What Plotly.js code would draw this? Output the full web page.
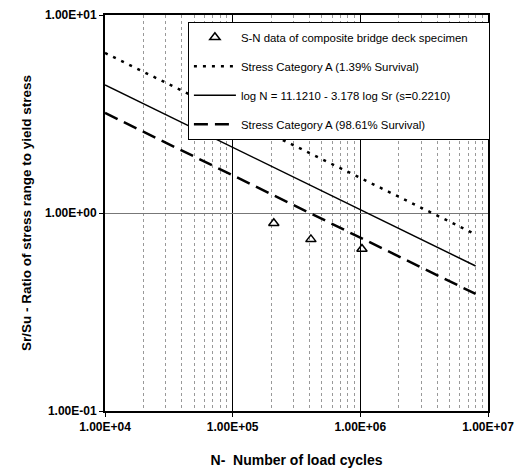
<!DOCTYPE html>
<html><head><meta charset="utf-8">
<script src="https://cdn.plot.ly/plotly-3.0.1.min.js"></script>
<style>html,body{margin:0;padding:0;background:#fff;}#chart{width:515px;height:475px;}</style>
</head><body><div id="chart"></div>
<script>
// Test data
const testCycles = [2.1e5, 4.1e5, 1.03e6];
const testRatio = [0.887, 0.736, 0.658];

// S-N curves (end points)
const curveCycles = [1e4, 8e6];
const upperRatio = [6.43, 0.78];   // 1.39% survival
const meanRatio = [4.43, 0.54];    // mean regression
const lowerRatio = [3.20, 0.39];   // 98.61% survival

const seriesNames = [
  'S-N data of composite bridge deck specimen',
  'Stress Category A (1.39% Survival)',
  'log N = 11.1210 - 3.178 log Sr (s=0.2210)',
  'Stress Category A (98.61% Survival)'
];

const xTickVals = [1e4, 1e5, 1e6, 1e7];
const xTickText = ['1.00E+04', '1.00E+05', '1.00E+06', '1.00E+07'];
const yTickVals = [0.1, 1, 10];
const yTickText = ['1.00E-01', '1.00E+00', '1.00E+01'];

const F = '"Liberation Sans", Arial, sans-serif';
const PAD = '\u00A0\u00A0\u00A0\u00A0\u00A0'; // right padding inside legend box

const traces = [
  {x: testCycles, y: testRatio, name: seriesNames[0] + PAD, mode: 'markers', legendgroup: 'a',
   marker: {symbol: 'triangle-up-open', size: 9, color: '#000', line: {width: 1.5, color: '#000'}}},
  {x: curveCycles, y: upperRatio, name: seriesNames[1], mode: 'lines', legendgroup: 'b',
   line: {color: '#000', width: 2.5, dash: '3px,6px'}},
  {x: curveCycles, y: meanRatio, name: seriesNames[2], mode: 'lines', legendgroup: 'c',
   line: {color: '#000', width: 1.5}},
  {x: curveCycles, y: lowerRatio, name: seriesNames[3], mode: 'lines', legendgroup: 'd',
   line: {color: '#000', width: 2.5, dash: '14px,7px'}}
];

const layout = {
  width: 515, height: 475,
  margin: {l: 105, r: 27, t: 15, b: 64},
  paper_bgcolor: '#fff', plot_bgcolor: '#fff',
  font: {family: F, color: '#000'},
  showlegend: true,
  legend: {
    x: 1.005, xanchor: 'right', y: 0.983, yanchor: 'top',
    bgcolor: '#fff', bordercolor: '#000', borderwidth: 1,
    font: {family: F, size: 11.4, color: '#000'},
    traceorder: 'grouped', tracegroupgap: 10, itemwidth: 42
  },
  xaxis: {
    type: 'log', range: [4, 7],
    tickvals: xTickVals, ticktext: xTickText,
    tickfont: {family: F, size: 12, color: '#000', weight: 'bold'},
    ticks: 'outside', ticklen: 4, tickcolor: '#000',
    showline: true, mirror: true, linecolor: '#000', linewidth: 2,
    showgrid: true, gridcolor: '#000', gridwidth: 1.5,
    minor: {dtick: 'D1', showgrid: true, gridcolor: '#999', griddash: 'dot', gridwidth: 1, ticks: ''},
    zeroline: false,
    title: {text: 'N-  Number of load cycles', standoff: 22,
            font: {family: F, size: 14, color: '#000', weight: 'bold'}}
  },
  yaxis: {
    type: 'log', range: [-1, 1],
    tickvals: yTickVals, ticktext: yTickText,
    tickfont: {family: F, size: 12, color: '#000', weight: 'bold'},
    ticks: 'outside', ticklen: 4, tickcolor: '#000',
    showline: true, mirror: true, linecolor: '#000', linewidth: 2,
    showgrid: true, gridcolor: '#777', gridwidth: 1,
    zeroline: false,
    title: {text: 'Sr/Su - Ratio of stress range to yield stress', standoff: 10,
            font: {family: F, size: 13.5, color: '#000', weight: 'bold'}}
  }
};

Plotly.newPlot('chart', traces, layout, {displayModeBar: false, staticPlot: true});
</script>
</body></html>
